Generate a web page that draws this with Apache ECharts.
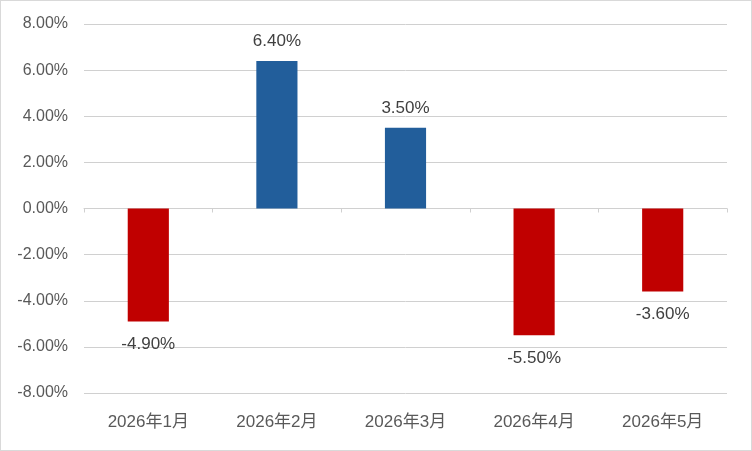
<!DOCTYPE html>
<html>
<head>
<meta charset="utf-8">
<script src="https://cdn.jsdelivr.net/npm/echarts@6/dist/echarts.min.js"></script>
<style>
  html, body { margin: 0; padding: 0; background: #fff; }
  #chart { width: 750px; height: 449px; border: 1px solid #d9d9d9; }
</style>
</head>
<body>
<div id="chart"></div>
<script>
// 月份与涨跌幅（%）
var months = ['2026年1月', '2026年2月', '2026年3月', '2026年4月', '2026年5月'];
var changes = [-4.9, 6.4, 3.5, -5.5, -3.6];
var yTicks = { min: -8, max: 8, step: 2 };

var upColor = '#225E9B';
var downColor = '#C00000';
var fontFamily = '"Liberation Sans", Arial, "Noto Sans CJK SC", sans-serif';

var barData = [];
for (var i = 0; i < changes.length; i++) {
  var v = changes[i];
  barData.push({
    value: v,
    itemStyle: { color: v >= 0 ? upColor : downColor },
    label: { position: v >= 0 ? 'top' : 'bottom', distance: v >= 0 ? 11 : 14 }
  });
}

var myChart = echarts.init(document.getElementById('chart'));
var option = {
  animation: false,
  textStyle: { fontFamily: fontFamily },
  grid: { left: 83, right: 24, top: 23, bottom: 57, containLabel: false },
  xAxis: [
    {
      type: 'category',
      data: months,
      axisLine: { onZero: true, lineStyle: { color: '#d0d0d0', width: 1 } },
      axisTick: { show: true, alignWithLabel: false, length: 4, lineStyle: { color: '#d0d0d0' } },
      axisLabel: { show: false }
    },
    {
      type: 'category',
      data: months,
      position: 'bottom',
      axisLine: { show: false, onZero: false },
      axisTick: { show: false },
      axisLabel: { color: '#595959', fontSize: 17, margin: 21, fontFamily: fontFamily }
    }
  ],
  yAxis: {
    type: 'value',
    min: yTicks.min,
    max: yTicks.max,
    interval: yTicks.step,
    axisLine: { show: false },
    axisTick: { show: false },
    splitLine: { lineStyle: { color: '#d0d0d0', width: 1 } },
    axisLabel: {
      color: '#595959',
      fontSize: 16,
      margin: 16,
      fontFamily: fontFamily,
      formatter: function (v) { return v.toFixed(2) + '%'; }
    }
  },
  series: [
    {
      type: 'bar',
      xAxisIndex: 0,
      data: barData,
      barWidth: '32%',
      label: {
        show: true,
        color: '#404040',
        fontSize: 17,
        fontFamily: fontFamily,
        formatter: function (p) { return p.value.toFixed(2) + '%'; }
      }
    }
  ]
};
myChart.setOption(option);
</script>
</body>
</html>
